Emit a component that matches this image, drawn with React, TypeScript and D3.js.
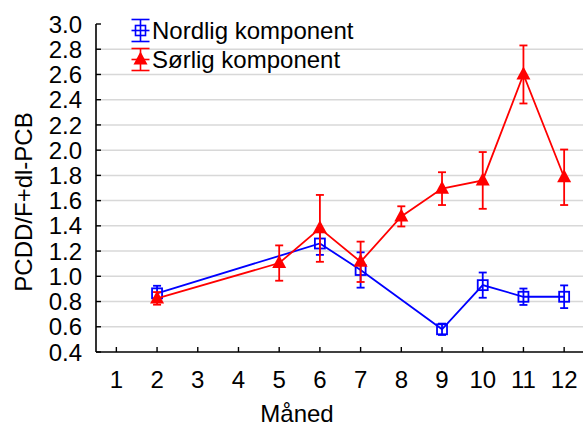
import React, { useEffect, useRef } from 'react';
import * as d3 from 'd3';

const W = 583;
const H = 428;

const months = [1, 2, 3, 4, 5, 6, 7, 8, 9, 10, 11, 12];
const yTicks = [0.4, 0.6, 0.8, 1.0, 1.2, 1.4, 1.6, 1.8, 2.0, 2.2, 2.4, 2.6, 2.8, 3.0];

// Nordlig komponent
const nordMonths = [2, 6, 7, 9, 10, 11, 12];
const nordMean = [0.865, 1.26, 1.05, 0.58, 0.93, 0.838, 0.838];
const nordErr = [0.06, 0.09, 0.14, 0.045, 0.1, 0.065, 0.09];

// Sørlig komponent
const sorMonths = [2, 5, 6, 7, 8, 9, 10, 11, 12];
const sorMean = [0.825, 1.105, 1.38, 1.115, 1.475, 1.695, 1.76, 2.6, 1.785];
const sorErr = [0.05, 0.14, 0.265, 0.16, 0.08, 0.13, 0.225, 0.23, 0.22];

const BLUE = '#0000ff';
const RED = '#ff0000';
const FONT = 'Liberation Sans, Arial, sans-serif';
const FS = 24;

export default function App() {
  const svgRef = useRef<SVGSVGElement | null>(null);

  useEffect(() => {
    if (!svgRef.current) return;
    const svg = d3.select(svgRef.current);
    svg.selectAll('*').remove();

    const left = 96;
    const top = 24;
    const bottom = 352;

    const x = d3.scaleLinear().domain([0.5, 12.5]).range([left, 584.5]);
    const y = d3.scaleLinear().domain([0.4, 3.0]).range([bottom, top]);

    // grid
    svg
      .append('g')
      .selectAll('line')
      .data(yTicks.filter((t) => t > 0.45 && t < 2.95))
      .join('line')
      .attr('x1', left)
      .attr('x2', W)
      .attr('y1', (d) => y(d))
      .attr('y2', (d) => y(d))
      .attr('stroke', '#d8d8d8')
      .attr('stroke-width', 1.5);

    // y axis
    const ya = svg.append('g');
    ya.append('line')
      .attr('x1', left).attr('x2', left)
      .attr('y1', y(3.0)).attr('y2', bottom)
      .attr('stroke', '#000').attr('stroke-width', 1.6);
    ya.selectAll('line.tk')
      .data(yTicks)
      .join('line')
      .attr('class', 'tk')
      .attr('x1', left).attr('x2', left + 5)
      .attr('y1', (d) => y(d)).attr('y2', (d) => y(d))
      .attr('stroke', '#000').attr('stroke-width', 1.4);
    ya.selectAll('text')
      .data(yTicks)
      .join('text')
      .attr('x', 82)
      .attr('y', (d) => y(d))
      .attr('dy', '0.36em')
      .attr('text-anchor', 'end')
      .attr('font-family', FONT)
      .attr('font-size', FS)
      .text((d) => d3.format('.1f')(d));

    // x axis
    const xa = svg.append('g');
    xa.append('line')
      .attr('x1', left).attr('x2', W)
      .attr('y1', bottom).attr('y2', bottom)
      .attr('stroke', '#000').attr('stroke-width', 1.6);
    xa.selectAll('line.tk')
      .data(months)
      .join('line')
      .attr('class', 'tk')
      .attr('x1', (d) => x(d)).attr('x2', (d) => x(d))
      .attr('y1', bottom).attr('y2', bottom - 5)
      .attr('stroke', '#000').attr('stroke-width', 1.4);
    xa.selectAll('text')
      .data(months)
      .join('text')
      .attr('x', (d) => x(d))
      .attr('y', 388)
      .attr('text-anchor', 'middle')
      .attr('font-family', FONT)
      .attr('font-size', FS)
      .text((d) => String(d));

    svg.append('text')
      .attr('x', 297).attr('y', 422)
      .attr('text-anchor', 'middle')
      .attr('font-family', FONT)
      .attr('font-size', FS)
      .text('Måned');

    svg.append('text')
      .attr('transform', 'translate(32,202) rotate(-90)')
      .attr('text-anchor', 'middle')
      .attr('font-family', FONT)
      .attr('font-size', FS)
      .text('PCDD/F+dl-PCB');

    const line = d3
      .line<[number, number]>()
      .x((d) => x(d[0]))
      .y((d) => y(d[1]));

    const drawSeries = (
      ms: number[],
      mean: number[],
      err: number[],
      color: string,
      marker: 'square' | 'triangle'
    ) => {
      const g = svg.append('g');
      g.append('path')
        .datum(ms.map((m, i) => [m, mean[i]] as [number, number]))
        .attr('d', line)
        .attr('fill', 'none')
        .attr('stroke', color)
        .attr('stroke-width', 1.8);
      const eb = g.selectAll('g.eb').data(ms).join('g').attr('class', 'eb');
      eb.append('line')
        .attr('x1', (d) => x(d)).attr('x2', (d) => x(d))
        .attr('y1', (_, i) => y(mean[i] + err[i]))
        .attr('y2', (_, i) => y(mean[i] - err[i]))
        .attr('stroke', color).attr('stroke-width', 1.8);
      [1, -1].forEach((s) => {
        eb.append('line')
          .attr('x1', (d) => x(d) - 4).attr('x2', (d) => x(d) + 4)
          .attr('y1', (_, i) => y(mean[i] + s * err[i]))
          .attr('y2', (_, i) => y(mean[i] + s * err[i]))
          .attr('stroke', color).attr('stroke-width', 1.8);
      });
      if (marker === 'square') {
        g.selectAll('rect')
          .data(ms)
          .join('rect')
          .attr('x', (d) => x(d) - 5)
          .attr('y', (_, i) => y(mean[i]) - 5)
          .attr('width', 10).attr('height', 10)
          .attr('fill', 'none')
          .attr('stroke', color).attr('stroke-width', 1.8);
      } else {
        g.selectAll('path.tri')
          .data(ms)
          .join('path')
          .attr('class', 'tri')
          .attr('transform', (d, i) => `translate(${x(d)},${y(mean[i])})`)
          .attr('d', 'M0,-8L7,5L-7,5Z')
          .attr('fill', color);
      }
    };

    drawSeries(nordMonths, nordMean, nordErr, BLUE, 'square');
    drawSeries(sorMonths, sorMean, sorErr, RED, 'triangle');

    // legend
    const legend = [
      { label: 'Nordlig komponent', color: BLUE, marker: 'square', cy: 30.5 },
      { label: 'Sørlig komponent', color: RED, marker: 'triangle', cy: 59.5 },
    ];
    const lg = svg.append('g');
    legend.forEach((it) => {
      const cx = 140.5;
      const gi = lg.append('g');
      gi.append('line')
        .attr('x1', cx).attr('x2', cx)
        .attr('y1', it.cy - 11).attr('y2', it.cy + 11)
        .attr('stroke', it.color).attr('stroke-width', 1.6);
      [-11, 11].forEach((o) => {
        gi.append('line')
          .attr('x1', cx - 9).attr('x2', cx + 9)
          .attr('y1', it.cy + o).attr('y2', it.cy + o)
          .attr('stroke', it.color).attr('stroke-width', 1.6);
      });
      gi.append('line')
        .attr('x1', cx - 9).attr('x2', cx + 9)
        .attr('y1', it.cy).attr('y2', it.cy)
        .attr('stroke', it.color).attr('stroke-width', 1.6);
      if (it.marker === 'square') {
        gi.append('rect')
          .attr('x', cx - 5).attr('y', it.cy - 5)
          .attr('width', 10).attr('height', 10)
          .attr('fill', 'none')
          .attr('stroke', it.color).attr('stroke-width', 1.6);
      } else {
        gi.append('path')
          .attr('transform', `translate(${cx},${it.cy})`)
          .attr('d', 'M0,-8L7,5L-7,5Z')
          .attr('fill', it.color);
      }
      gi.append('text')
        .attr('x', 152)
        .attr('y', it.cy + 8.5)
        .attr('font-family', FONT)
        .attr('font-size', FS)
        .text(it.label);
    });
  }, []);

  return (
    <svg
      ref={svgRef}
      width={W}
      height={H}
      style={{ position: 'absolute', left: 0, top: 0, background: '#fff' }}
    />
  );
}
